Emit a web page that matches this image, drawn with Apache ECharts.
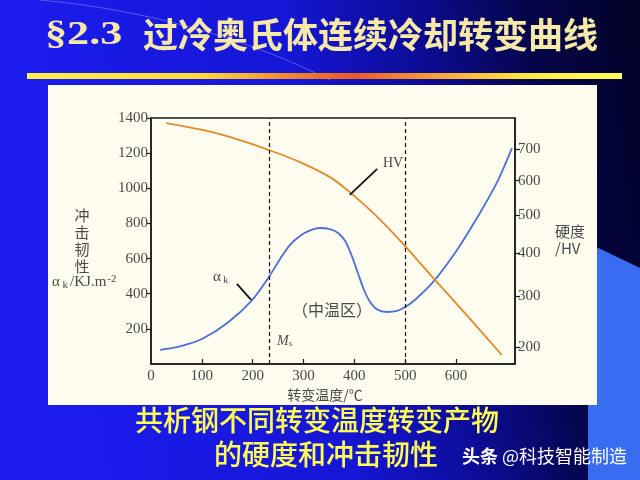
<!DOCTYPE html>
<html><head><meta charset="utf-8">
<script src="https://cdn.jsdelivr.net/npm/echarts@6/dist/echarts.min.js"></script>
<style>html,body{margin:0;padding:0;background:#000;}#c{width:640px;height:480px;}</style>
</head><body><div id="c"></div>
<script>
// ---- data ----
const tempTicks = [0, 100, 200, 300, 400, 500, 600];
const tempTickMarks = [100, 200, 300, 400, 500, 600];
const akTicks = [200, 400, 600, 800, 1000, 1200, 1400];
const hvTicks = [200, 300, 400, 500, 600, 700];
// impact toughness a_k (KJ/m^2) vs transformation temperature (°C)
const akTemp  = [18, 57, 102, 150, 199, 230, 254, 273, 293, 313, 332, 352, 368, 382, 395, 407, 419, 431, 445, 464, 484, 500, 519, 555, 602, 647, 681, 710];
const akValue = [80, 100, 145, 233, 364, 487, 598, 677, 729, 760, 774, 768, 746, 700, 615, 518, 421, 353, 310, 296, 302, 324, 364, 467, 649, 859, 1036, 1229];
// hardness HV vs transformation temperature (°C)
const hvTemp  = [30, 110, 175, 232, 293, 352, 391, 437, 494, 555, 628, 690];
const hvValue = [788, 761, 730, 697, 658, 611, 566, 506, 426, 341, 253, 187];
const msTemp = 232;
const zoneEnd = 500;

// hardness axis drawn as a square-root scale
const sq = v => Math.sqrt(v);
const hvMin = 172, hvMax = 806;

const chart = echarts.init(document.getElementById('c'), null, {renderer: 'canvas'});
const serif = '"Liberation Serif", "DejaVu Serif", serif';
const cjk = '"Noto Sans CJK SC", sans-serif';
const grey = '#4a4a4a';

const option = {
  animation: false,
  grid: {left: 151, right: 125, top: 118, bottom: 116, show: true, borderColor: '#1a1a1a', borderWidth: 1.5, backgroundColor: 'transparent'},
  xAxis: {
    type: 'value', min: 0, max: 716,
    axisLine: {show: true, lineStyle: {color: '#1a1a1a', width: 1.5}},
    axisTick: {show: true, inside: true, length: 5, customValues: tempTickMarks, lineStyle: {color: '#1a1a1a', width: 1.2}},
    axisLabel: {customValues: tempTicks, formatter: v => String(v), color: grey, fontFamily: serif, fontSize: 15, margin: 5},
    splitLine: {show: false}
  },
  yAxis: [{
    type: 'value', min: 0, max: 1400, interval: 200, position: 'left',
    axisLine: {show: true, lineStyle: {color: '#1a1a1a', width: 1.5}},
    axisTick: {show: true, length: 5, customValues: akTicks, lineStyle: {color: '#1a1a1a', width: 1.2}},
    axisLabel: {customValues: akTicks, formatter: v => String(v), color: grey, fontFamily: serif, fontSize: 15, margin: 3},
    splitLine: {show: false}
  }, {
    type: 'value', min: sq(hvMin), max: sq(hvMax), position: 'right',
    axisLine: {show: true, lineStyle: {color: '#1a1a1a', width: 1.5}},
    axisTick: {show: true, length: 5, customValues: hvTicks.map(sq), lineStyle: {color: '#1a1a1a', width: 1.2}},
    axisLabel: {customValues: hvTicks.map(sq), formatter: v => String(Math.round(v * v)), color: grey, fontFamily: serif, fontSize: 15, margin: 3},
    splitLine: {show: false}
  }],
  series: [{
    name: 'αk', type: 'line', yAxisIndex: 0, smooth: 0.3, symbol: 'none',
    lineStyle: {color: '#4d70d2', width: 1.8},
    data: akTemp.map((t, i) => [t, akValue[i]]),
    markLine: {
      silent: true, symbol: 'none', label: {show: false},
      lineStyle: {color: '#111', type: [4, 3], width: 1.2},
      data: [
        {xAxis: msTemp},
        {xAxis: zoneEnd},
        [{coord: [169, 456], lineStyle: {type: 'solid', width: 1.8, color: '#111'}}, {coord: [197, 365]}],
        [{coord: [391, 963], lineStyle: {type: 'solid', width: 1.8, color: '#111'}}, {coord: [445, 1111]}]
      ]
    }
  }, {
    name: 'HV', type: 'line', yAxisIndex: 1, smooth: 0.3, symbol: 'none',
    lineStyle: {color: '#e08a2a', width: 1.8},
    data: hvTemp.map((t, i) => [t, sq(hvValue[i])])
  }],
  graphic: [
    {type: 'rect', z: -30, shape: {x: 0, y: 0, width: 640, height: 480},
     style: {fill: new echarts.graphic.LinearGradient(0, 0.2, 1, 0, [
       {offset: 0, color: '#1c1cf0'}, {offset: 0.45, color: '#1616d6'},
       {offset: 0.66, color: '#0c0c92'}, {offset: 0.82, color: '#05054c'}, {offset: 1, color: '#020226'}])}},
    {type: 'bezierCurve', z: -29, shape: {x1: 40, y1: 0, x2: 330, y2: 80, cpx1: 150, cpy1: 10, cpx2: 250, cpy2: 40},
     style: {stroke: 'rgba(200,210,255,0.35)', lineWidth: 1, fill: null}},
    {type: 'polygon', z: -29, shape: {points: [[590, 244], [640, 268], [640, 480], [588, 480], [588, 300]]},
     style: {fill: '#3a6cf2'}},
    {type: 'rect', z: -28, shape: {x: 48, y: 85, width: 549, height: 320}, style: {fill: '#fdfcef'}},
    {type: 'rect', z: -28, shape: {x: 27, y: 73, width: 595, height: 6},
     style: {fill: new echarts.graphic.LinearGradient(0, 0, 1, 0, [
       {offset: 0, color: '#fff04a'}, {offset: 0.3, color: '#ffd83a'}, {offset: 0.45, color: '#f08030'},
       {offset: 0.55, color: '#e85a28'}, {offset: 0.68, color: '#f8a038'}, {offset: 0.85, color: '#ffec44'}, {offset: 1, color: '#ffff5a'}])}},
    {type: 'text', z: 10, x: 45, y: 35, scaleX: 1.3, style: {text: '§2.3', x: 0, y: 0, textVerticalAlign: 'middle', font: 'bold 34px ' + serif,
      fill: '#f6e8a6', shadowColor: '#2a1800', shadowOffsetX: 2, shadowOffsetY: 2, shadowBlur: 1}},
    {type: 'text', z: 10, style: {text: '过冷奥氏体连续冷却转变曲线', x: 143, y: 35, textVerticalAlign: 'middle', font: 'bold 35px ' + cjk,
      fill: '#f6e8a6', shadowColor: '#2a1800', shadowOffsetX: 2, shadowOffsetY: 2, shadowBlur: 1}},
    // axis titles
    {type: 'text', z: 10, style: {text: '冲\n击\n韧\n性', x: 82, y: 207, textAlign: 'center', font: '15px ' + cjk, lineHeight: 17, fill: grey}},
    {type: 'text', z: 10, style: {text: '{a|α}{s| k}{a|/KJ.m}{p|-2}', x: 52, y: 282, textVerticalAlign: 'middle', fill: grey,
      rich: {a: {font: '15px ' + serif, fill: grey}, s: {font: '11px ' + serif, fill: grey, padding: [6, 2, 0, 0]}, p: {font: '11px ' + serif, fill: grey, padding: [0, 0, 6, 1]}}}},
    {type: 'text', z: 10, style: {text: '硬度\n/HV', x: 555, y: 240, textVerticalAlign: 'middle', font: '15px ' + cjk, lineHeight: 17, fill: grey}},
    {type: 'text', z: 10, style: {text: '转变温度/℃', x: 325, y: 395, textAlign: 'center', textVerticalAlign: 'middle', font: '14px ' + cjk, fill: grey}},
    // annotations
    {type: 'text', z: 10, style: {text: '{a|α}{s| k}', x: 213, y: 277, textVerticalAlign: 'middle', fill: grey,
      rich: {a: {font: '15px ' + serif, fill: grey}, s: {font: '10px ' + serif, fill: grey, padding: [6, 0, 0, 0]}}}},
    {type: 'text', z: 10, style: {text: 'HV', x: 383, y: 163, textVerticalAlign: 'middle', font: '14px ' + serif, fill: grey}},
    {type: 'text', z: 10, style: {text: '（中温区）', x: 332, y: 310, textAlign: 'center', textVerticalAlign: 'middle', font: '16px ' + cjk, fill: grey}},
    {type: 'text', z: 10, style: {text: '{m|M}{s|s}', x: 277, y: 341, textVerticalAlign: 'middle', fill: grey,
      rich: {m: {font: 'italic 14px ' + serif, fill: grey}, s: {font: 'italic 9px ' + serif, fill: grey, padding: [5, 0, 0, 0]}}}},
    // caption
    {type: 'text', z: 10, style: {text: '共析钢不同转变温度转变产物', x: 317, y: 420, textAlign: 'center', textVerticalAlign: 'middle',
      font: '500 28px ' + cjk, fill: '#ffff55', shadowColor: '#202000', shadowOffsetX: 1, shadowOffsetY: 1, shadowBlur: 1}},
    {type: 'text', z: 10, style: {text: '的硬度和冲击韧性', x: 326, y: 454, textAlign: 'center', textVerticalAlign: 'middle',
      font: '500 28px ' + cjk, fill: '#ffff55', shadowColor: '#202000', shadowOffsetX: 1, shadowOffsetY: 1, shadowBlur: 1}},
    {type: 'text', z: 10, style: {text: '{b|头条} @科技智能制造', x: 462, y: 456, textVerticalAlign: 'middle', font: '18px ' + cjk, fill: '#ffffff',
      rich: {b: {font: 'bold 18px ' + cjk, fill: '#ffffff'}}}}
  ]
};
chart.setOption(option);
</script></body></html>
